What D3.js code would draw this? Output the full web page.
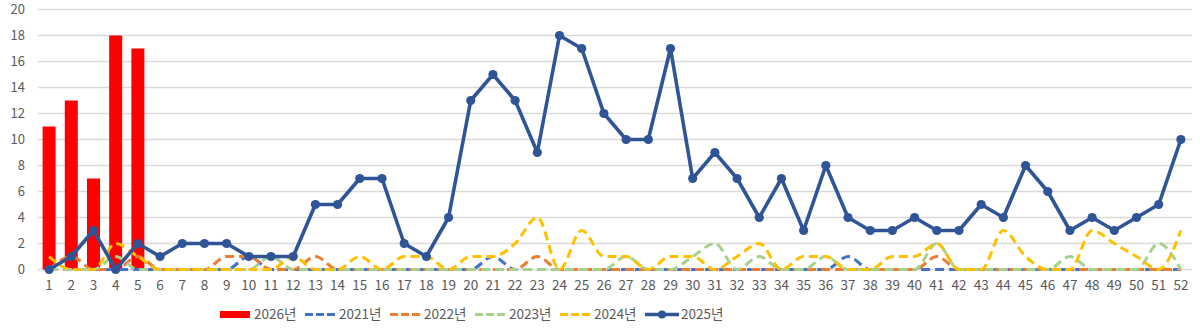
<!DOCTYPE html>
<html><head><meta charset="utf-8">
<script src="https://cdn.jsdelivr.net/npm/d3@7"></script>
<style>
html,body{margin:0;padding:0;background:#fff;}
svg{display:block;font-family:"Noto Sans CJK KR","Noto Sans",sans-serif;}
</style></head>
<body>
<svg id="chart" width="1200" height="329"></svg>
<script>
const weeks = d3.range(1, 53).map(String);
const yTicks = [0,2,4,6,8,10,12,14,16,18,20];
const s2026 = [11,13,7,18,17];
const s2021 = [0,0,0,0,0,0,0,0,0,1,0,0,0,0,0,0,0,0,0,0,1,0,0,0,0,0,0,0,0,0,0,0,0,0,0,0,1,0,0,0,0,0,0,0,0,0,0,0,0,0,0,0];
const s2022 = [0,1,0,0,1,0,0,0,1,1,0,0,1,0,0,0,0,0,0,0,0,0,1,0,0,0,0,0,0,0,0,0,0,0,0,0,0,0,0,0,1,0,0,0,0,0,0,0,0,0,0,0];
const s2023 = [0,0,0,1,0,0,0,0,0,0,1,0,0,0,0,0,0,0,0,0,0,0,0,0,0,0,1,0,0,1,2,0,1,0,0,1,0,0,0,0,2,0,0,0,0,0,1,0,0,0,2,0];
const s2024 = [1,0,0,2,1,0,0,0,0,0,0,1,0,0,1,0,1,1,0,1,1,2,4,0,3,1,1,0,1,1,0,1,2,0,1,1,0,0,1,1,2,0,0,3,1,0,0,3,2,1,0,3];
const s2025 = [0,1,3,0,2,1,2,2,2,1,1,1,5,5,7,7,2,1,4,13,15,13,9,18,17,12,10,10,17,7,9,7,4,7,3,8,4,3,3,4,3,3,5,4,8,6,3,4,3,4,5,10];

(function () {
const svg = d3.select("#chart");
const pl = 38, pr = 1192, pt = 9.5, pb = 269.5;
const x = d3.scaleBand().domain(weeks).range([pl, pr]);
const y = d3.scaleLinear().domain([0, 20]).range([pb, pt]);
const cx = d => x(d) + x.bandwidth() / 2;
const txt = "#595959";

svg.append("g").selectAll("line").data(yTicks).join("line")
  .attr("x1", pl).attr("x2", pr)
  .attr("y1", d => y(d)).attr("y2", d => y(d))
  .attr("stroke", "#d9d9d9").attr("stroke-width", 1.3);

svg.append("g").selectAll("text").data(yTicks).join("text")
  .attr("x", 25).attr("y", d => y(d)).attr("dy", "0.35em")
  .attr("text-anchor", "end").attr("font-size", 13).attr("fill", txt).text(d => d);

svg.append("g").selectAll("text").data(weeks).join("text")
  .attr("x", d => cx(d)).attr("y", 290)
  .attr("text-anchor", "middle").attr("font-size", 13.5).attr("fill", txt).text(d => d);

svg.append("g").selectAll("rect").data(s2026).join("rect")
  .attr("x", (d, i) => cx(weeks[i]) - 6.5).attr("width", 13)
  .attr("y", d => y(d)).attr("height", d => y(0) - y(d))
  .attr("fill", "#ff0000");

const dashed = [
  {name: "2021년", data: s2021, color: "#4472c4"},
  {name: "2022년", data: s2022, color: "#ed7d31"},
  {name: "2023년", data: s2023, color: "#a9d18e"},
  {name: "2024년", data: s2024, color: "#ffc000"}
];
const lineGen = d3.line().x((d, i) => cx(weeks[i])).y(d => y(d)).curve(d3.curveMonotoneX);
dashed.forEach(s => {
  svg.append("path").datum(s.data).attr("d", lineGen)
    .attr("fill", "none").attr("stroke", s.color).attr("stroke-width", 3)
    .attr("stroke-dasharray", "9,5").attr("stroke-linecap", "butt");
});

const blue = "#2f5597";
const line25 = d3.line().x((d, i) => cx(weeks[i])).y(d => y(d));
svg.append("path").datum(s2025).attr("d", line25)
  .attr("fill", "none").attr("stroke", blue).attr("stroke-width", 3.6).attr("stroke-linejoin", "round");
svg.append("g").selectAll("circle").data(s2025).join("circle")
  .attr("cx", (d, i) => cx(weeks[i])).attr("cy", d => y(d)).attr("r", 4.6).attr("fill", blue);

const leg = svg.append("g");
const ly = 314.5;
const items = [
  {name: "2026년", type: "bar", color: "#ff0000"},
  ...dashed.map(s => ({name: s.name, type: "dash", color: s.color})),
  {name: "2025년", type: "marker", color: blue}
];
items.forEach((it, i) => {
  const x0 = 220 + i * 85;
  if (it.type === "bar") {
    leg.append("rect").attr("x", x0).attr("y", ly - 3.5).attr("width", 30).attr("height", 7).attr("fill", it.color);
  } else if (it.type === "dash") {
    leg.append("line").attr("x1", x0).attr("x2", x0 + 30).attr("y1", ly).attr("y2", ly)
      .attr("stroke", it.color).attr("stroke-width", 3).attr("stroke-dasharray", "8,3");
  } else {
    leg.append("line").attr("x1", x0).attr("x2", x0 + 34).attr("y1", ly).attr("y2", ly)
      .attr("stroke", it.color).attr("stroke-width", 3.4);
    leg.append("circle").attr("cx", x0 + 17).attr("cy", ly).attr("r", 4).attr("fill", it.color);
  }
  leg.append("text").attr("x", x0 + (it.type === "marker" ? 36 : 34)).attr("y", ly).attr("dy", "0.36em")
    .attr("font-size", 13.5).attr("fill", txt).text(it.name);
});
})();
</script>
</body></html>
